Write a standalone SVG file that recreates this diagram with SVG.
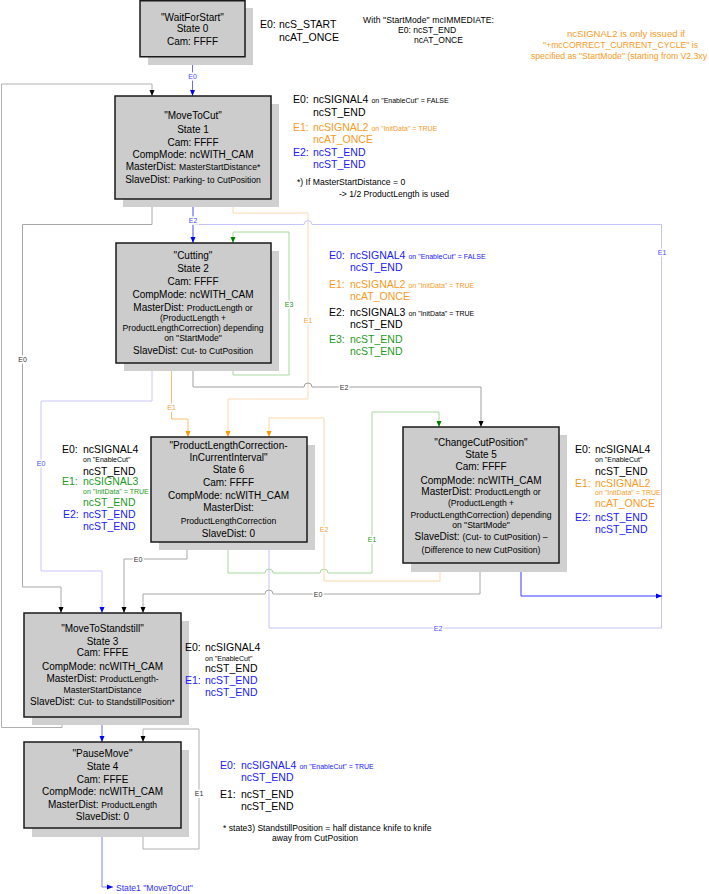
<svg xmlns="http://www.w3.org/2000/svg" width="709" height="894" viewBox="0 0 709 894">
<style>
text{font-family:"Liberation Sans",Arial,sans-serif}
.bt{font-size:10px;text-anchor:middle;fill:#000}
.s{font-size:8.6px}
.lb{font-size:10.5px}
.sm{font-size:7px}
.nt{font-size:8.6px}
.on{font-size:8.8px;fill:#f79a1e}
.cl{font-size:7px;text-anchor:middle;paint-order:stroke;stroke:#fff;stroke-width:3px}
.box{fill:#cccccc;stroke:#1a1a1a;stroke-width:1.5}
.sh{fill:#d0d0d0}
.c{fill:none;stroke-width:1}
.blue{fill:#2020ff}.orange{fill:#f79a1e}.green{fill:#1e9a1e}.black{fill:#000}
</style>
<defs>
<marker id="ak" viewBox="0 0 6 6" refX="6" refY="3" markerWidth="6" markerHeight="6" markerUnits="userSpaceOnUse" orient="auto"><path d="M0,0.5L6,3L0,5.5z" fill="#000"/></marker>
<marker id="ab" viewBox="0 0 6 6" refX="6" refY="3" markerWidth="6" markerHeight="6" markerUnits="userSpaceOnUse" orient="auto"><path d="M0,0.5L6,3L0,5.5z" fill="#0000ff"/></marker>
<marker id="ag" viewBox="0 0 6 6" refX="6" refY="3" markerWidth="6" markerHeight="6" markerUnits="userSpaceOnUse" orient="auto"><path d="M0,0.5L6,3L0,5.5z" fill="#008000"/></marker>
<marker id="ao" viewBox="0 0 6 6" refX="6" refY="3" markerWidth="6" markerHeight="6" markerUnits="userSpaceOnUse" orient="auto"><path d="M0,0.5L6,3L0,5.5z" fill="#ff9900"/></marker>
</defs>
<rect width="709" height="894" fill="#fff"/>

<g id="connectors">
<path class="c" stroke="#6b6bff" d="M192.5,57V96" marker-end="url(#ab)"/>
<path class="c" stroke="#b0b0b0" d="M62,717V727.5H1.5V84H152V96" marker-end="url(#ak)"/>
<path class="c" stroke="#a8a8a8" d="M152,199V224.5H22.5V587H61V613" marker-end="url(#ak)"/>
<path class="c" stroke="#4a4aff" d="M193,199V243" marker-end="url(#ab)"/>
<path class="c" stroke="#fcd9b0" d="M233,199V213H308V399H228V437" marker-end="url(#ao)"/>
<path class="c" stroke="#c4c4fa" d="M269,542V628H661.5V224.5H312A4,4 0 0 0 304,224.5H193"/>
<path class="c" stroke="#a8d8a0" d="M233,363V375H289V232H233V243" marker-end="url(#ag)"/>
<path class="c" stroke="#c8c8ff" d="M152,363V401H41V571H102V613" marker-end="url(#ab)"/>
<path class="c" stroke="#f8c070" d="M171.5,363V419H188V437" marker-end="url(#ao)"/>
<path class="c" stroke="#a0a0a0" d="M193,363V387H304A4,4 0 0 1 312,387H481V427" marker-end="url(#ak)"/>
<path class="c" stroke="#a8a8a8" d="M187,542V559H124V613" marker-end="url(#ak)"/>
<path class="c" stroke="#a8d8a0" d="M228,542V573H265A4,4 0 0 1 273,573H320A4,4 0 0 1 328,573H372V412H439V427" marker-end="url(#ag)"/>
<path class="c" stroke="#a8a8a8" d="M480,563V594H273A4,4 0 0 0 265,594H143V613" marker-end="url(#ak)"/>
<path class="c" stroke="#fbd8a8" d="M440,563V581H324V418H269V437" marker-end="url(#ao)"/>
<path class="c" stroke="#3a3aff" d="M521,563V596H662" marker-end="url(#ab)"/>
<path class="c" stroke="#6a6aff" d="M102,717V742" marker-end="url(#ab)"/>
<path class="c" stroke="#b0b0b0" d="M143,828V849H199V729H143V742" marker-end="url(#ak)"/>
<path class="c" stroke="#8080ff" d="M102,828V887H113" marker-end="url(#ab)"/>
<text class="cl" x="192.5" y="78.5" fill="#4a4aff">E0</text>
<text class="cl" x="22.5" y="362" fill="#333">E0</text>
<text class="cl" x="193" y="223" fill="#4a4aff">E2</text>
<text class="cl" x="308" y="322.5" fill="#f5a030">E1</text>
<text class="cl" x="289" y="306.5" fill="#1e9a1e">E3</text>
<text class="cl" x="662" y="254.5" fill="#4a4aff">E1</text>
<text class="cl" x="344" y="389.5" fill="#333">E2</text>
<text class="cl" x="171.5" y="409.5" fill="#f5a030">E1</text>
<text class="cl" x="41" y="465.5" fill="#4a4aff">E0</text>
<text class="cl" x="372" y="541.5" fill="#1e9a1e">E1</text>
<text class="cl" x="324" y="531.5" fill="#f5a030">E2</text>
<text class="cl" x="138" y="561.5" fill="#333">E0</text>
<text class="cl" x="318" y="596.5" fill="#333">E0</text>
<text class="cl" x="438" y="630.5" fill="#4a4aff">E2</text>
<text class="cl" x="199" y="795.5" fill="#333">E1</text>
<text x="116" y="891" style="font-size:8.6px" fill="#3030ff">State1 "MoveToCut"</text>
</g>

<g id="state0">
<rect class="sh" x="148" y="8" width="105" height="57"/>
<rect class="box" x="140" y="0.75" width="105" height="56"/>
<text class="bt" x="192.5" y="20.5">"WaitForStart"</text>
<text class="bt" x="192.5" y="31.5">State 0</text>
<text class="bt" x="192.5" y="45">Cam: FFFF</text>
</g>

<g id="state1">
<rect class="sh" x="123" y="104" width="156" height="103"/>
<rect class="box" x="115" y="96" width="156" height="103"/>
<text class="bt" x="193" y="118.5">"MoveToCut"</text>
<text class="bt" x="193" y="132.5">State 1</text>
<text class="bt" x="193" y="145.5">Cam: FFFF</text>
<text class="bt" x="193" y="157.5">CompMode: ncWITH_CAM</text>
<text class="bt" x="193" y="170">MasterDist: <tspan class="s">MasterStartDistance*</tspan></text>
<text class="bt" x="193" y="182.5">SlaveDist: <tspan class="s">Parking- to CutPosition</tspan></text>
</g>

<g id="state2">
<rect class="sh" x="124" y="251" width="155" height="120"/>
<rect class="box" x="116" y="243" width="155" height="120"/>
<text class="bt" x="193" y="258.5">"Cutting"</text>
<text class="bt" x="193" y="271.5">State 2</text>
<text class="bt" x="193" y="284.5">Cam: FFFF</text>
<text class="bt" x="193" y="297.5">CompMode: ncWITH_CAM</text>
<text class="bt" x="193" y="310.5">MasterDist: <tspan class="s">ProductLength or</tspan></text>
<text class="bt s" x="193" y="320.5">(ProductLength +</text>
<text class="bt s" x="193" y="331">ProductLengthCorrection) depending</text>
<text class="bt s" x="193" y="340.5">on "StartMode"</text>
<text class="bt" x="193" y="353.5">SlaveDist: <tspan class="s">Cut- to CutPosition</tspan></text>
</g>

<g id="state6">
<rect class="sh" x="159" y="445" width="156" height="105"/>
<rect class="box" x="151" y="437" width="156" height="105"/>
<text class="bt" x="228.5" y="448.5">"ProductLengthCorrection-</text>
<text class="bt" x="228.5" y="461">InCurrentInterval"</text>
<text class="bt" x="228.5" y="473">State 6</text>
<text class="bt" x="228.5" y="486">Cam: FFFF</text>
<text class="bt" x="228.5" y="498.5">CompMode: ncWITH_CAM</text>
<text class="bt" x="228.5" y="511">MasterDist:</text>
<text class="bt s" x="228.5" y="524">ProductLengthCorrection</text>
<text class="bt" x="228.5" y="537">SlaveDist: 0</text>
</g>

<g id="state5">
<rect class="sh" x="411" y="435" width="156" height="137"/>
<rect class="box" x="403" y="427" width="156" height="136"/>
<text class="bt" x="481" y="446">"ChangeCutPosition"</text>
<text class="bt" x="481" y="458">State 5</text>
<text class="bt" x="481" y="470">Cam: FFFF</text>
<text class="bt" x="481" y="483.5">CompMode: ncWITH_CAM</text>
<text class="bt" x="481" y="495">MasterDist: <tspan class="s">ProductLength or</tspan></text>
<text class="bt s" x="481" y="506">(ProductLength +</text>
<text class="bt s" x="481" y="517.5">ProductLengthCorrection) depending</text>
<text class="bt s" x="481" y="527.5">on "StartMode"</text>
<text class="bt" x="481" y="540">SlaveDist: <tspan class="s">(Cut- to CutPosition) –</tspan></text>
<text class="bt s" x="481" y="552.5">(Difference to new CutPosition)</text>
</g>

<g id="state3">
<rect class="sh" x="32" y="621" width="157" height="104"/>
<rect class="box" x="24" y="613" width="157" height="104"/>
<text class="bt" x="102.5" y="632">"MoveToStandstill"</text>
<text class="bt" x="102.5" y="644.5">State 3</text>
<text class="bt" x="102.5" y="656">Cam: FFFE</text>
<text class="bt" x="102.5" y="669.5">CompMode: ncWITH_CAM</text>
<text class="bt" x="102.5" y="682">MasterDist: <tspan class="s">ProductLength-</tspan></text>
<text class="bt s" x="102.5" y="692.5">MasterStartDistance</text>
<text class="bt" x="102.5" y="704.5">SlaveDist: <tspan class="s">Cut- to StandstillPosition*</tspan></text>
</g>

<g id="state4">
<rect class="sh" x="32" y="750" width="157" height="87"/>
<rect class="box" x="24" y="742" width="157" height="86"/>
<text class="bt" x="102.5" y="757">"PauseMove"</text>
<text class="bt" x="102.5" y="769.5">State 4</text>
<text class="bt" x="102.5" y="782.5">Cam: FFFE</text>
<text class="bt" x="102.5" y="795">CompMode: ncWITH_CAM</text>
<text class="bt" x="102.5" y="807.5">MasterDist: <tspan class="s">ProductLength</tspan></text>
<text class="bt" x="102.5" y="819.5">SlaveDist: 0</text>
</g>

<g id="notes">
<text class="lb black" x="260" y="28">E0:</text>
<text class="lb black" x="279" y="28">ncS_START</text>
<text class="lb black" x="279" y="41">ncAT_ONCE</text>
<text class="nt black" x="363" y="23" textLength="131">With "StartMode" mcIMMEDIATE:</text>
<text class="nt black" x="398" y="33">E0: ncST_END</text>
<text class="nt black" x="414" y="43">ncAT_ONCE</text>
<text class="on" x="567" y="37" textLength="118" lengthAdjust="spacingAndGlyphs">ncSIGNAL2 is only issued if</text>
<text class="on" x="543" y="48" textLength="155" lengthAdjust="spacingAndGlyphs">"+mcCORRECT_CURRENT_CYCLE" is</text>
<text class="on" x="531" y="59" textLength="176" lengthAdjust="spacingAndGlyphs" style="font-size:8.3px">specified as "StartMode" (starting from V2.3xy</text>
</g>

<g id="labels1">
<text class="lb black" x="293" y="103">E0:</text>
<text class="lb black" x="313" y="103">ncSIGNAL4<tspan class="sm" dx="3">on "EnableCut" = FALSE</tspan></text>
<text class="lb black" x="313" y="116">ncST_END</text>
<text class="lb orange" x="293" y="131">E1:</text>
<text class="lb orange" x="313" y="131">ncSIGNAL2<tspan class="sm" dx="3">on "InitData" = TRUE</tspan></text>
<text class="lb orange" x="313" y="143">ncAT_ONCE</text>
<text class="lb blue" x="293" y="156">E2:</text>
<text class="lb blue" x="313" y="156">ncST_END</text>
<text class="lb blue" x="313" y="168">ncST_END</text>
<text class="nt black" x="297" y="185">*) If MasterStartDistance = 0</text>
<text class="nt black" x="339" y="197">-&gt; 1/2 ProductLength is used</text>
</g>

<g id="labels2">
<text class="lb blue" x="329" y="259">E0:</text>
<text class="lb blue" x="350" y="259">ncSIGNAL4<tspan class="sm" dx="3">on "EnableCut" = FALSE</tspan></text>
<text class="lb blue" x="350" y="271">ncST_END</text>
<text class="lb orange" x="329" y="288">E1:</text>
<text class="lb orange" x="350" y="288">ncSIGNAL2<tspan class="sm" dx="3">on "InitData" = TRUE</tspan></text>
<text class="lb orange" x="350" y="300">ncAT_ONCE</text>
<text class="lb black" x="329" y="316">E2:</text>
<text class="lb black" x="350" y="316">ncSIGNAL3<tspan class="sm" dx="3">on "InitData" = TRUE</tspan></text>
<text class="lb black" x="350" y="328">ncST_END</text>
<text class="lb green" x="329" y="343">E3:</text>
<text class="lb green" x="350" y="343">ncST_END</text>
<text class="lb green" x="350" y="355">ncST_END</text>
</g>

<g id="labels6">
<text class="lb black" x="62" y="453">E0:</text>
<text class="lb black" x="83" y="453">ncSIGNAL4</text>
<text class="sm black" x="83" y="462">on "EnableCut"</text>
<text class="lb black" x="83" y="474.5">ncST_END</text>
<text class="lb green" x="62" y="485">E1:</text>
<text class="lb green" x="83" y="485">ncSIGNAL3</text>
<text class="sm green" x="83" y="494">on "InitData" = TRUE</text>
<text class="lb green" x="83" y="506">ncST_END</text>
<text class="lb blue" x="63" y="518">E2:</text>
<text class="lb blue" x="83" y="518">ncST_END</text>
<text class="lb blue" x="83" y="530">ncST_END</text>
</g>

<g id="labels5">
<text class="lb black" x="575" y="453">E0:</text>
<text class="lb black" x="595" y="453">ncSIGNAL4</text>
<text class="sm black" x="595" y="461.5">on "EnableCut"</text>
<text class="lb black" x="595" y="474.5">ncST_END</text>
<text class="lb orange" x="575" y="486.5">E1:</text>
<text class="lb orange" x="595" y="486.5">ncSIGNAL2</text>
<text class="sm orange" x="595" y="495">on "InitData" = TRUE</text>
<text class="lb orange" x="595" y="507">ncAT_ONCE</text>
<text class="lb blue" x="575" y="521">E2:</text>
<text class="lb blue" x="595" y="521">ncST_END</text>
<text class="lb blue" x="595" y="533">ncST_END</text>
</g>

<g id="labels3">
<text class="lb black" x="185" y="651">E0:</text>
<text class="lb black" x="205" y="651">ncSIGNAL4</text>
<text class="sm black" x="205" y="660.5">on "EnableCut"</text>
<text class="lb black" x="205" y="672">ncST_END</text>
<text class="lb blue" x="185" y="684">E1:</text>
<text class="lb blue" x="205" y="684">ncST_END</text>
<text class="lb blue" x="205" y="696">ncST_END</text>
</g>

<g id="labels4">
<text class="lb blue" x="220" y="769">E0:</text>
<text class="lb blue" x="241" y="769">ncSIGNAL4<tspan class="sm" dx="3">on "EnableCut" = TRUE</tspan></text>
<text class="lb blue" x="241" y="781">ncST_END</text>
<text class="lb black" x="220" y="798">E1:</text>
<text class="lb black" x="241" y="798">ncST_END</text>
<text class="lb black" x="241" y="810">ncST_END</text>
<text class="nt black" x="223" y="831">* state3) StandstillPosition = half distance knife to knife</text>
<text class="nt black" x="272" y="841">away from CutPosition</text>
</g>
</svg>
